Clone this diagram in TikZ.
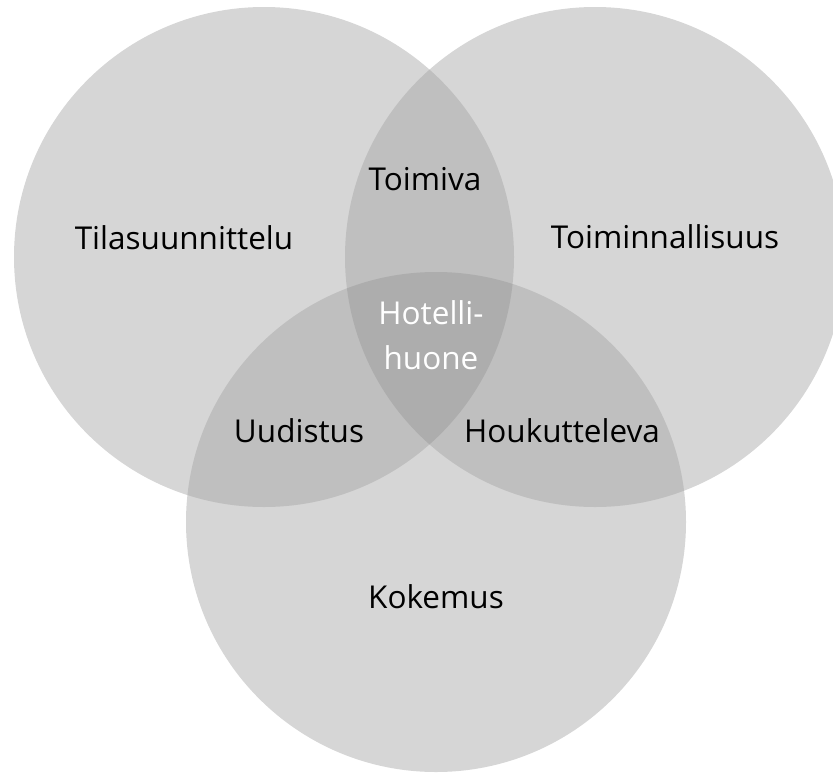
\documentclass[tikz,border=0pt]{standalone}
\usepackage{fontspec}
\setmainfont{Open Sans}
\definecolor{one}{RGB}{214,214,214}
\definecolor{two}{RGB}{191,191,191}
\definecolor{three}{RGB}{173,173,173}
\begin{document}
\begin{tikzpicture}[x=1pt,y=-1pt,
  lbl/.style={inner sep=0pt,anchor=base,font=\fontsize{31.5}{45}\selectfont,text=black},
  circ/.style={radius=250pt}]
\useasboundingbox (0,0) rectangle (833,774);
\coordinate (L) at (264,257);
\coordinate (R) at (595,257);
\coordinate (B) at (436,522);
% single circles
\fill[one] (L) circle[circ];
\fill[one] (R) circle[circ];
\fill[one] (B) circle[circ];
% pairwise overlaps
\begin{scope}
  \clip (L) circle[circ];
  \fill[two] (R) circle[circ];
  \fill[two] (B) circle[circ];
\end{scope}
\begin{scope}
  \clip (R) circle[circ];
  \fill[two] (B) circle[circ];
\end{scope}
% triple overlap
\begin{scope}
  \clip (L) circle[circ];
  \clip (R) circle[circ];
  \fill[three] (B) circle[circ];
\end{scope}
% labels
\node[lbl] (tila) at (184,249) {Tilasuunnittelu};
\node[lbl] (toimin) at (665,248) {Toiminnallisuus};
\node[lbl] (toimiva) at (425,190) {Toimiva};
\node[lbl,text=white,align=center] (hotelli) at (431,369) {Hotelli-\\huone};
\node[lbl] (uud) at (299,442) {Uudistus};
\node[lbl] (houk) at (562,442) {Houkutteleva};
\node[lbl] (kok) at (436,608) {Kokemus};
\end{tikzpicture}
\end{document}
